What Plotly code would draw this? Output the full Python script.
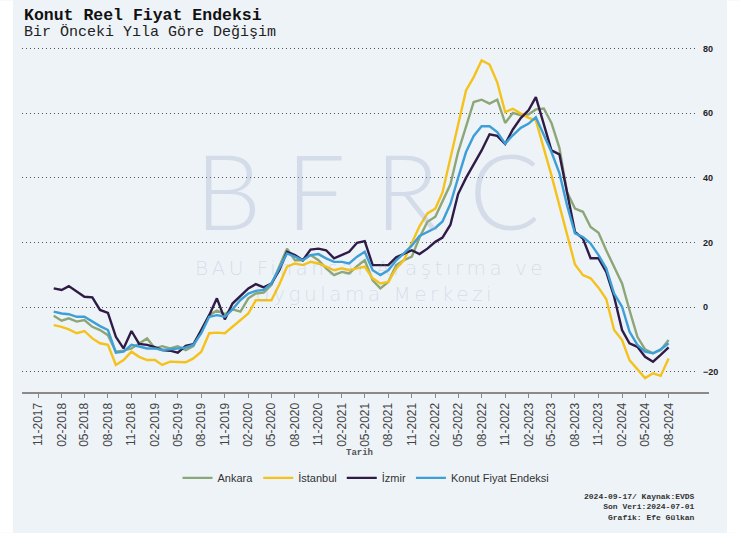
import pandas as pd
import plotly.graph_objects as go

# ---------------- data ----------------
start_month = "2018-01-01"
n_months = 80
dates = pd.date_range(start_month, periods=n_months, freq="MS")
tick_dates = pd.date_range("2017-11-01", "2024-08-01", freq="3MS")

ankara = [-2.7, -4.2, -3.5, -4.5, -4.0, -6.1, -7.1, -8.7, -13.8, -13.5,
          -12.8, -11.2, -9.7, -12.8, -12.1, -12.8, -12.1, -13.3, -12.1, -7.1,
          -2.5, -1.1, -2.2, -0.7, -1.4, 2.7, 4.2, 4.5, 6.8, 12.6,
          18.1, 14.5, 14.5, 16.1, 14.5, 12.0, 9.9, 10.9, 10.4, 12.7,
          14.5, 8.3, 5.8, 7.8, 13.0, 14.5, 15.6, 21.5, 26.4, 28.0,
          32.5, 38.0, 48.0, 55.7, 63.5, 64.2, 63.0, 64.2, 57.0, 60.1,
          59.4, 59.7, 61.2, 61.5, 57.0, 49.3, 35.6, 30.5, 29.5, 24.8,
          23.0, 17.6, 12.5, 7.3, -0.9, -9.2, -13.1, -14.3, -13.3, -10.2]

istanbul = [-5.6, -6.1, -6.9, -8.1, -7.4, -9.7, -11.2, -11.7, -17.9, -16.4,
            -13.8, -15.4, -16.4, -16.4, -17.9, -16.9, -17.0, -17.1, -15.9, -13.8,
            -8.1, -7.9, -8.1, -6.1, -4.0, -2.0, 2.1, 2.1, 2.1, 7.0,
            12.5, 13.5, 13.0, 14.0, 13.5, 12.5, 11.4, 12.0, 11.4, 12.0,
            12.5, 8.9, 7.3, 7.8, 12.0, 14.5, 20.0, 25.0, 29.0, 30.5,
            35.5, 46.0, 57.0, 67.1, 71.2, 76.4, 75.1, 69.6, 60.4, 61.4,
            59.9, 58.6, 57.8, 49.3, 40.8, 31.5, 22.5, 13.2, 9.9, 8.9,
            6.0, 2.5, -7.1, -10.2, -16.4, -19.3, -22.0, -20.5, -21.3, -15.9]

izmir = [5.8, 5.3, 6.5, 4.7, 3.2, 3.0, -0.9, -1.8, -9.2, -12.8,
         -7.4, -11.4, -11.7, -12.4, -13.3, -13.5, -14.1, -12.0, -11.5, -7.1,
         -2.5, 2.7, -3.8, 1.1, 3.5, 5.8, 7.1, 6.1, 7.3, 11.4,
         17.1, 16.1, 14.5, 17.8, 18.1, 17.6, 15.1, 16.1, 17.1, 19.9,
         20.4, 13.0, 13.0, 13.0, 15.4, 16.6, 17.6, 16.4, 18.1, 20.2,
         21.5, 25.5, 35.0, 40.0, 44.0, 48.5, 53.5, 53.0, 50.5, 55.0,
         58.5, 61.0, 65.0, 57.0, 48.5, 47.3, 36.0, 23.3, 21.2, 15.1,
         15.1, 10.9, 3.2, -7.1, -11.2, -12.3, -15.4, -16.9, -14.8, -12.5]

konut = [-1.4, -2.0, -2.2, -3.0, -3.0, -4.5, -5.9, -7.1, -14.1, -13.8,
         -11.7, -12.2, -12.8, -12.8, -13.3, -13.1, -12.8, -12.5, -11.7, -8.1,
         -3.0, -2.5, -3.0, -0.7, 2.2, 4.2, 5.0, 5.3, 7.3, 12.0,
         16.6, 15.6, 14.5, 16.1, 16.4, 15.1, 14.0, 14.0, 13.5, 15.6,
         17.1, 11.4, 9.9, 11.4, 14.5, 16.6, 19.0, 22.0, 23.3, 24.5,
         26.5, 32.0, 40.0, 48.0, 53.0, 56.0, 56.0, 54.2, 50.6, 53.2,
         55.5, 56.8, 58.8, 53.5, 48.0, 41.5, 31.5, 22.8, 21.7, 19.7,
         16.1, 12.0, 4.2, 0.1, -7.6, -11.7, -13.8, -14.3, -13.1, -11.2]

series_names = ["Ankara", "İstanbul", "İzmir", "Konut Fiyat Endeksi"]
series_values = [ankara, istanbul, izmir, konut]
series_colors = ["#8da677", "#f4c21b", "#2f1b45", "#3d9fd6"]

y_ticks = [-20, 0, 20, 40, 60, 80]

# ---------------- layout geometry (pixels) ----------------
W, H = 739, 533
L, R, T, B = 22, 697, 38.5, 393  # plot area edges in pixels


def px_x(x):
    return (x - L) / (R - L)


def px_y(y):
    return (B - y) / (B - T)


BG = "#eef3f8"
MONO = "Liberation Mono, Courier New, monospace"
SANS = "Liberation Sans, Arial, sans-serif"

fig = go.Figure()
for name, vals, col in zip(series_names, series_values, series_colors):
    fig.add_trace(go.Scatter(x=dates, y=vals, mode="lines", name=name,
                             line=dict(color=col, width=2.4)))

fig.update_layout(
    width=W, height=H,
    margin=dict(l=L, r=W - R, t=T, b=H - B, pad=0),
    paper_bgcolor=BG, plot_bgcolor=BG,
    showlegend=True,
    legend=dict(orientation="h", x=px_x(366), xanchor="center",
                y=px_y(478), yanchor="middle",
                font=dict(family=SANS, size=11, color="#333333"),
                bgcolor="rgba(0,0,0,0)", itemwidth=30, tracegroupgap=0),
    xaxis=dict(type="date", range=["2017-08-30", "2024-11-20"],
               tickvals=tick_dates, tickformat="%m-%Y",
               tickangle=-90, ticks="outside", ticklen=4, tickwidth=1,
               tickcolor="#888888", showgrid=False, zeroline=False,
               showline=False,
               tickfont=dict(family=SANS, size=12, color="#444444"),
               title=dict(text="Tarih", standoff=2,
                          font=dict(family=MONO, size=9, color="#555555",
                                    weight="bold"))),
    yaxis=dict(side="right", range=[-26.6, 83], tickvals=y_ticks,
               showgrid=True, gridcolor="#555555", gridwidth=1,
               griddash="1px,3px", zeroline=False, showline=False,
               ticks="", ticklabelstandoff=5,
               tickfont=dict(family=SANS, size=9, color="#222222",
                             weight="bold")),
)

shapes = [
    # white side strips
    dict(type="rect", xref="paper", yref="paper", x0=px_x(0), x1=px_x(13),
         y0=px_y(H), y1=px_y(0), fillcolor="white", line_width=0, layer="above"),
    dict(type="rect", xref="paper", yref="paper", x0=px_x(727), x1=px_x(W),
         y0=px_y(H), y1=px_y(0), fillcolor="white", line_width=0, layer="above"),
    # bottom axis line
    dict(type="line", xref="paper", yref="paper", x0=0, x1=px_x(709),
         y0=0, y1=0, line=dict(color="#8a8a8a", width=2), layer="above"),
]
fig.update_layout(shapes=shapes)

wm = "rgba(150,170,195,0.30)"
WMFONT = "DejaVu Sans, sans-serif"
annotations = [
    dict(text="<b>Konut Reel Fiyat Endeksi</b>", xref="paper", yref="paper",
         x=px_x(22), y=px_y(15), xanchor="left", yanchor="middle",
         showarrow=False, font=dict(family=MONO, size=16.5, color="#111111")),
    dict(text="Bir Önceki Yıla Göre Değişim", xref="paper", yref="paper",
         x=px_x(22), y=px_y(31), xanchor="left", yanchor="middle",
         showarrow=False, font=dict(family=MONO, size=15, color="#222222")),
    dict(text="<b>2024-09-17/ Kaynak:EVDS<br>Son Veri:2024-07-01<br>Grafik: Efe Gülkan</b>",
         xref="paper", yref="paper", x=px_x(697), y=px_y(507),
         xanchor="right", yanchor="middle", align="right", showarrow=False,
         font=dict(family=MONO, size=8, color="#333333")),
    dict(text='<span style="letter-spacing:3.5px">BAU Finansal Araştırma ve</span>',
         xref="paper", yref="paper",
         x=px_x(370), y=px_y(268), xanchor="center", yanchor="middle",
         showarrow=False,
         font=dict(family=WMFONT, size=20, color=wm, weight=300)),
    dict(text='<span style="letter-spacing:3.5px">Uygulama Merkezi</span>',
         xref="paper", yref="paper",
         x=px_x(375), y=px_y(294), xanchor="center", yanchor="middle",
         showarrow=False,
         font=dict(family=WMFONT, size=20, color=wm, weight=300)),
]
for letter, cx in zip(["B", "F", "R", "C"], [228, 315, 407, 505]):
    annotations.append(dict(text=letter, xref="paper", yref="paper",
                            x=px_x(cx), y=px_y(254), xanchor="center",
                            yanchor="bottom", showarrow=False,
                            font=dict(family="Lato, sans-serif", size=105,
                                      color=wm, weight=300)))
fig.update_layout(annotations=annotations)

fig.write_html("out.html", post_script="document.body.style.margin='0';",
               config={"displayModeBar": False})
